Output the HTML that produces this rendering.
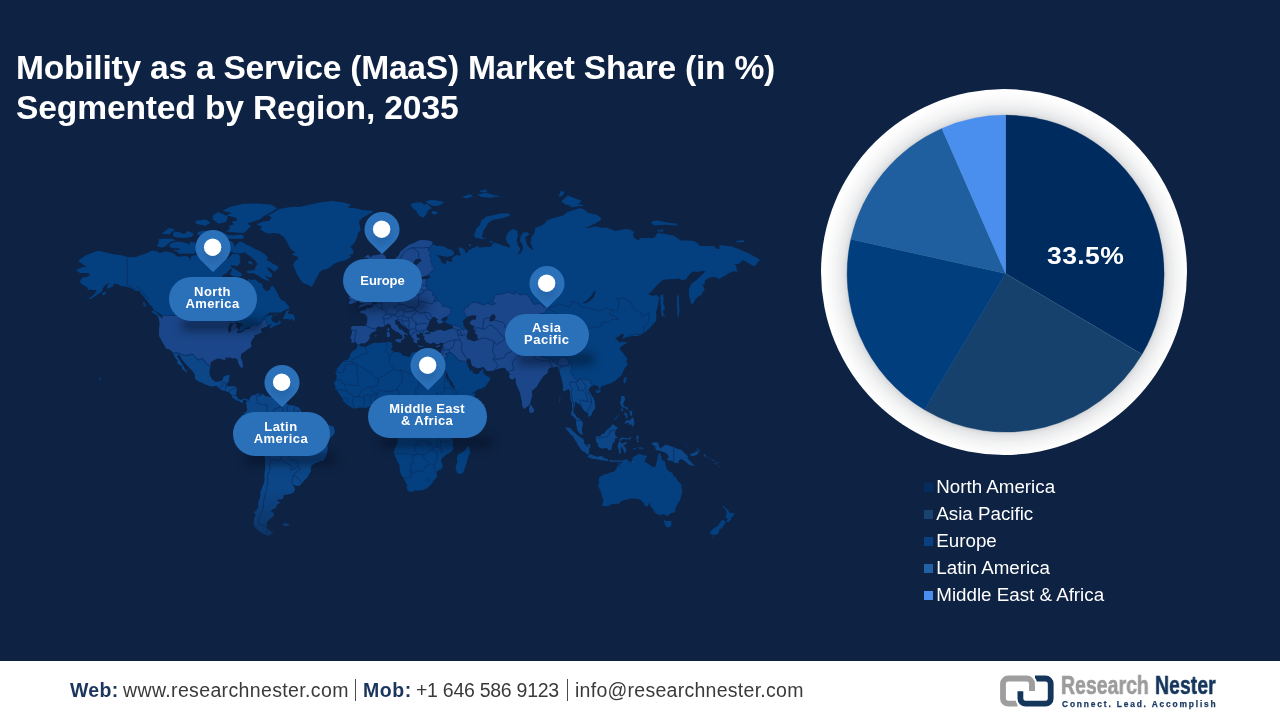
<!DOCTYPE html>
<html lang="en">
<head>
<meta charset="utf-8">
<title>Mobility as a Service (MaaS) Market Share by Region, 2035</title>
<style>
*{margin:0;padding:0;box-sizing:border-box}
html,body{width:1280px;height:720px;overflow:hidden;background:#0e2243;font-family:"Liberation Sans",sans-serif}
#stage{position:relative;width:1280px;height:720px;background:#0e2243;overflow:hidden}
.title{position:absolute;left:15.6px;white-space:nowrap;color:#fff;font-weight:bold;font-size:33.6px;line-height:40px;letter-spacing:-.31px}
#t1{top:48.4px;letter-spacing:-.245px}
#t2{top:88.1px;letter-spacing:-.14px}
#map{position:absolute;left:0;top:0;width:1280px;height:661px}
.pin{position:absolute;width:36px;height:43px;margin-left:-18px}
.pill{position:absolute;background:#2b71ba;border-radius:22px;color:#fff;font-weight:bold;font-size:13px;line-height:12px;letter-spacing:.42px;text-align:center;display:flex;align-items:center;justify-content:center;}
.psh{position:absolute;height:12px;border-radius:6px;background:rgba(4,13,34,.5);filter:blur(5px)}
.pill span{display:block;position:relative;top:-1.05px;left:-.6px}
#ring{position:absolute;left:821.2px;top:89.1px;width:365.8px;height:365.8px;border-radius:50%;background:#fff}
#pie{position:absolute;left:821px;top:89px;width:368px;height:368px}
#pct{position:absolute;left:1046.9px;top:242px;color:#fff;font-weight:bold;font-size:24.7px;line-height:28px;letter-spacing:.35px;white-space:nowrap;transform:scaleX(1.075);transform-origin:0 50%}
.lg{position:absolute;left:924px;height:22px;white-space:nowrap;color:#fff;font-size:18.75px;line-height:22px}
.lg i{position:absolute;left:.1px;top:7.1px;width:9.1px;height:9.1px}
.lg span{position:absolute;left:12.3px;top:-.35px}
#footer{position:absolute;left:0;top:661px;width:1280px;height:59px;background:#fff}
.ft{position:absolute;top:16.9px;font-size:19.5px;line-height:24px;white-space:nowrap;color:#3a3a3a}
.ft.b{font-weight:bold;color:#1b365d}
.sep{position:absolute;top:17.5px;width:1.6px;height:22.5px;background:#4a4a4a}
#logo{position:absolute;left:990px;top:4px;width:240px;height:50px}
.lt{position:absolute;white-space:nowrap;font-weight:bold;transform-origin:0 0}
.title,.lg,.pill,.ft,.lt,#pct{will-change:transform}
</style>
</head>
<body>
<div id="stage">
<div class="title" id="t1">Mobility as a Service (MaaS) Market Share (in %)</div>
<div class="title" id="t2">Segmented by Region, 2035</div>

<svg id="map" viewBox="0 0 1280 661">
<defs><path id="ld" d="M76.1 269.9L82.8 267.1L87.5 266.8L88.5 268L84.3 265.2L78.4 261.3L79.9 259.3L86.6 254.9L93.2 252.5L98 250.8L106.5 252.5L113.1 254.2L121.7 255.3L127.4 257L135 257.3L138.8 255.7L144.5 254.1L149.2 252L152.1 250.5L157.8 251.6L159.6 253.2L165.3 251.2L172.9 252.9L176.7 256.1L178.6 256.8L186.2 256L189.1 257.6L190 260.6L191.3 256L195.7 254.9L201.4 256.8L208 256.6L210.9 255L213.2 256L216.6 254L212.8 250.4L212.8 246.9L215.6 245.4L218.5 247.5L220.4 249.9L222.3 253.1L224.2 255L226.1 257.6L228 258.9L229.9 256.4L232.7 254.1L238.4 254.1L240.7 257.6L239.4 259.2L240.7 262.1L237.5 266.1L233.7 265.8L230.8 264.8L231.8 268.6L228.9 270.2L227 273.1L223.2 275.1L219.4 279.4L216.6 283.5L215.3 286.5L216.2 289.9L218.5 290.7L219.4 294.9L224.2 294.9L228.9 297.6L233.7 299.4L238.8 299.7L239 305.4L241.3 308L243.2 309.7L245.1 309L245.4 305.9L245.1 301.5L248.9 298.1L249.8 294.9L247 290.5L248.3 286.5L247 283.6L247.9 279.1L251.7 279.8L255.5 279.6L259.3 282.8L262.1 283.7L263.1 288L265.9 291L269.7 289.9L270.7 287.1L272.6 285.4L275.4 289.4L277.3 292.7L279.2 297L281.1 299.7L284.9 301.3L286.8 304.1L289.1 306.4L288.7 308.5L284.9 310L281.1 312.5L275.4 312.5L269.7 312.5L265 315.9L262.1 319.1L259.9 320.8L263.1 318.4L267.8 315.5L272.6 315.2L272.6 317.2L271.1 318.1L272 320.3L273.5 322.2L277.3 323.2L279.6 320.3L281.3 322.7L279.2 324.3L274.5 326L270.5 328.5L269.4 326.7L272 323.9L269.7 324.6L267.8 325.7L264 327.4L261.8 328.3L260.6 330.4L262.1 332.4L259.3 333.3L257.4 334.2L254.5 335.1L254.2 337.4L252.3 339.2L251.3 341.4L250.8 343.1L251.5 346.8L249.2 348.3L247 349.8L244.5 351.7L241.3 353.8L240.5 357L242 361.1L243 364.6L242.8 367.2L241.3 368.1L239.7 365.6L238 362.6L237.8 360.1L235.6 358L232.7 358.4L229.9 357.2L227 357.4L224.9 357.8L225.7 360.1L223.2 359.7L220.8 358.8L217 358.6L214.7 359.7L211.8 361.5L210.3 363.2L210.5 366.4L209.4 370.3L209.4 373.9L210.5 376.7L212.2 379.6L214.1 381L215.8 382L218.5 381.4L221.3 381.2L222.9 379.6L223.4 376.7L227 375.3L229.9 375.3L228.9 378.2L228.5 381.4L227.4 383.1L226.3 386.3L228.4 386.5L231.8 386.3L234.6 386.5L237.1 388L236.3 390.9L236.1 393.8L236.1 395.7L237.5 397.7L239 399.6L241.3 400L243.2 399.2L244.3 398.4L246.4 399L248.1 400.1L247.9 401.3L246.6 400.9L246 399.6L243.9 399.8L242.6 401.1L242.8 402.6L241.3 402.8L239.9 401.3L237.7 401.1L236.3 400.3L234.2 398.4L232.2 397.7L232.2 395.7L230.3 393.4L228.9 391.9L226.8 391.5L224.2 390.5L221.3 390L219.4 388.6L216.6 386.1L214.1 385.9L211.3 386.5L208 385.3L205.2 384.3L201.8 382.6L198.6 381.4L195.7 379.2L194.6 377.2L195.1 375.3L193.8 372.7L191.9 370.3L189.1 367.6L187.2 365.6L185.3 363.2L183.4 361.1L181.5 358.4L180.1 355.5L177.3 354.5L177.3 357L179.6 360.1L181.5 363.2L183.4 366.2L184.9 369.3L186.8 370.9L186.4 372.5L184.3 370.3L182 368.7L181.9 366.2L178.6 364.2L176.7 362.6L178.1 360.9L175.8 358.6L174.3 355.9L172.7 352.8L170.3 349.8L166.3 348.5L164.4 345.3L162.7 342.5L161.7 340.5L160 337.6L158.9 335.6L159.3 332L158.9 329.7L159.6 325.7L159.6 322L158.3 316.9L161.5 317.4L162.5 319.6L162.7 316.7L161.2 314.7L157.8 312.2L154 310.5L152.1 306.7L149.2 303.9L147.5 301.5L145.4 298.9L143.5 296.2L140.7 293.5L139.7 290.7L135.9 291.3L133.1 289.3L129.8 287.7L125.5 286.5L120.7 286L117.9 284.3L114.1 283.7L112.6 286.5L109.4 288L106.7 288.8L107.8 285.1L110.7 283.1L108.4 283.7L105.2 285.1L102.7 288.5L102.3 291.6L98.9 293.5L95.1 296.2L91.7 298.4L88.9 299.4L89.4 297.8L92.3 296.2L95.1 293.2L96.6 289.9L93.2 289.9L90.4 289.4L87.5 290.2L87.9 287.7L85.6 286.5L81.8 284.3L79.9 281.9L80.9 279.3L82.8 277.5L85.6 277.2L89.4 276L89.4 273.3L85.6 273L81.1 273.3L79 272.4L76.1 269.9ZM311.7 287.1L307.7 284.8L302.9 283.1L300.1 279.3L296.9 274.2L295.4 270.2L293.1 265.5L294.4 261.6L298.2 259L297.3 256.6L291.6 254.6L295.4 252.2L291.6 250.1L288.7 245.8L286.8 241.4L284 236.9L279.2 233.8L273.5 233.1L268.8 233.8L264 231.9L260.2 229.1L262.1 226.7L256.4 224.6L262.1 221.7L269.7 220.4L271.6 217.4L267.8 215.2L273.5 212.6L279.2 209L290.6 207.1L300.1 206.7L309.6 204.8L319.1 202.4L332.4 201L343.8 202.4L351.3 204.8L347.6 207.6L357 208.5L362.7 209.9L372.2 210.8L373.2 212.1L368.4 214.4L362.7 217.4L358.9 221.7L359.9 225.8L360.8 229.9L358 233.1L357 237.7L355.1 241.4L353.2 244.4L350.4 246.9L353.2 249.7L353.2 253.9L349.4 254.9L351.3 256.6L345.7 260.3L340 261.6L334.3 263.6L330.5 267.1L325.7 269.3L321.9 270.2L319.1 272.7L317.8 276.3L315.7 279.3L314.1 283.1L311.7 287.1ZM246.8 400.1L248 401.5L249.7 399L250.7 396.7L252.1 395.5L254.8 395.2L257.4 393.8L258.9 392.9L259.9 394.2L258.3 396.1L259.1 397.1L261.5 394.8L262.4 393.4L263.6 394.8L265.4 396.3L268.1 396.5L271.2 397.3L274.2 396.5L278.3 396.3L276.9 397.3L280.4 398.4L281.4 400.5L284.5 401.7L287.6 404.7L291.7 405.5L294.7 405.7L297.8 407.2L299.9 408.5L301.3 412L303.2 413.9L302.4 416.1L304.5 417.1L306.3 417.5L307.6 418L311.3 418.8L314.4 420.9L316.4 421.3L320.6 422.2L323.6 422L326.7 423.7L329.9 425.8L333.4 426.6L334.6 430.4L334.3 433.4L332.8 435.4L330.5 437.7L328 441.3L327.1 444.4L327.5 448.3L327.3 451.2L326.3 454.8L324.8 458.7L323.1 460.9L320.1 461.1L317.2 462.5L314.3 463.5L311.5 465.8L310.6 468.2L310.9 471.3L309.3 473.7L307.4 477.5L304.5 480L301.9 483.2L299.7 485.5L296.6 485.7L292.9 484.4L291.7 483.8L293.9 486.6L295.1 489L293.2 492.5L290.2 494L286.1 494.5L283.6 494.7L283.1 498.5L280 499.4L277.6 498.9L277.3 501.4L279.9 502.1L279.2 503.5L277 504.4L275.8 507.9L272.4 509.3L270.9 511.4L273 513.1L274.3 514.1L273 516.2L270 518.7L266.9 521.4L266.1 524.4L267.6 526.2L265.3 526.7L266.6 528L268.1 529.5L269.4 531.3L273.6 532.4L270.8 533.4L269 535.6L265.6 534.5L261.7 532.7L258.8 530.6L256 528L254.5 525.9L253.9 522.4L254 517.9L256.1 515.5L254.4 512.6L257 509.5L258.8 506.7L258 504.2L258.9 501.2L259.8 498L260.6 495.8L260.5 491.4L261.7 489.4L262.8 485.9L264.2 482.7L264.7 479.6L264.5 475.8L264.6 472.9L265.2 469.2L265.4 465.5L265.1 462.1L265.2 458.1L264.5 455.2L263.9 452L261.4 450.3L259 448.9L255.7 447.3L252.9 445.8L250.6 443.4L250 441.5L248.4 439.6L246.9 437.3L245.3 434.8L243.7 431.9L242.2 429.8L239.7 428.1L239.2 425.6L240.9 423.3L241.9 421.6L239.8 421.1L240 418.6L240.8 417.3L241.6 415.4L243.6 414.4L244.2 412.9L246.7 411.6L247.3 409.3L246.6 406.4L246.8 404.2L245.8 403L246.8 400.1ZM282.4 318.9L284 316.4L284.9 314.2L286.2 311.3L289.5 309L288.7 311.3L287.6 313L289.7 314L292.9 314.2L294.4 316.4L295 319.1L294 321L292.5 320.3L291.9 318.6L289.7 320.5L288.9 319.1L285.9 318.9ZM151.3 311L154 311L157.2 313L160.6 316.9L158.3 316.7L155.9 314.7L152.4 312.7ZM142.6 302.3L145 302.8L146.4 307.5L143.5 304.9ZM101.8 293.8L105.6 291.3L106.1 293.5L103.7 295.4ZM283 523.7L286.1 523.4L289.5 524.2L287.9 525.9L283.8 525.9ZM258.7 501.2L259.9 501.9L259.4 504.4L258 504.2ZM278.7 266.8L277.3 269.3L274.5 271.8L271.6 269.3L266.9 267.1L268.8 270.8L271.6 273.3L272.4 276.9L268.8 277.5L265 275.4L267.8 279L270.7 281.1L265.9 280.2L262.1 278.4L258.3 275.7L253.6 273.3L247.9 273.4L246.6 271.1L251.7 270.3L254.5 270.2L255.5 267.1L257.4 263.9L255.5 261L250.8 256.8L247 254.2L245.1 252.4L239.4 253.5L234.6 253.1L230.8 251.7L225.1 249L224.2 244.7L225.1 241.2L231.8 240.9L233.7 243.8L234.6 247L236.5 244.6L239.4 241.8L242.2 241.9L246 244.4L248.9 245.5L252.7 247.6L256.4 249.7L259.3 250.4L263.1 253.2L265 254.6L267.8 257.3L266.9 260L270.7 262.3L273.5 263.9L276.4 265.5ZM172.9 250.1L176.7 251.6L179.6 253.7L186.2 253.4L193.8 254.1L195.7 252.1L201.4 253.1L202.4 250L199.5 247.9L195.7 246.5L195.7 242.7L190 241.4L190 244.6L184.3 242.4L178.6 241.4L172 242.4L170.1 244.2L169.1 246L172 248.3L178.6 248.3L180.5 249.8ZM156.8 246L161.5 247.8L165.3 246.6L167.2 244.4L172 241.1L175.8 240.9L172.9 239.1L165.3 238.4L158.7 239.2L158.7 242.2ZM172.9 236L176.7 237.5L184.3 238L191.9 236.8L193.8 233.9L188.1 230.7L184.3 234.2L180.5 232.5L173.9 231.5ZM161.5 233.4L169.1 234.4L174.8 229.6L169.1 228.1ZM197.6 234.9L209 236.7L209.9 231.5L203.3 230.4L197.6 232.2ZM200.5 244.4L207.1 246.5L211.8 243.3L209.9 240.3L203.3 240.1ZM213.7 245.3L218.5 245.6L223.2 243.2L223.2 240.2L213.7 239.9ZM212.8 235.1L220.4 237.9L231.8 238.9L243.2 238.8L244.1 235.6L239.4 234.4L233.7 235.4L228 235L224.2 232.7L220.4 231.6L212.8 231.5ZM226.1 231.6L235.6 232.5L243.2 232.9L247 230.6L250.8 225.8L247 223.4L252.7 221.7L260.2 219.2L264 216.1L267.8 213.9L277.3 208.5L271.6 204.8L258.3 203.4L243.2 203.8L229.9 207.1L222.3 210.8L231.8 213L226.1 215.2L235.6 217.4L237.5 220.4L231.8 221.7L233.7 224.6L228.9 225.8L229.9 229ZM212.8 215.2L218.5 212.1L228 216.6L226.1 221.7L218.5 223.7L212.8 219.6ZM195.7 223.7L205.2 225.7L210.9 222.5L205.2 219.6L195.7 220.8ZM229.9 273.9L232.7 267.5L235.6 269.5L241.3 273.3L242.2 275.9L237.5 276.8L232.7 276.3ZM237.5 277.7L243.2 279.1L238.4 280ZM206.1 252.8L210.9 250.8L213.7 253L210.9 255ZM247.9 261.3L251.7 261.2L252.7 264.5L248.9 263.7ZM272.6 313.2L277.9 315L275.4 315ZM357.7 345.2L358.9 345L361 346.6L363.7 346.4L365.7 346.9L368.6 345.2L371.8 343.6L375.9 342.7L380 342.9L383.1 342.2L385.8 342.4L389.9 341.7L390.9 342.9L392.3 342.2L391.5 345.2L392.5 346.6L391.9 348L390.5 349.7L392.5 350.8L395 352.2L396.8 351.9L400.9 353.1L402.2 355.2L405.6 356.1L408.3 357L410.4 356.3L411 353.8L413.8 351.9L416.1 352.2L419 354L421 354.7L425.5 355.1L429.2 355.9L431 355.4L433.3 354.7L436 355.2L438.4 355.6L439.8 355.2L441.3 358.4L440 361.3L438.6 360.4L436.8 357.9L436.2 358L437 359.9L438.6 361.6L439.4 363.5L440.7 365.2L442.5 367.7L443.1 369.9L445.4 372L446 374.2L446 377.2L446.8 379.3L448.6 380.6L450.1 383.7L451.1 386.2L453.4 387.5L455.2 389.4L457.2 391L458.5 392.1L458.1 393.9L459.9 396.2L462 396.4L465 395.6L467.1 395L470.6 394.6L473.2 393.7L474.9 393.5L474.5 396.2L473.8 398.9L472.2 401.4L470.8 404.1L468.5 407.6L466.5 409.6L464 412.3L460.9 414.5L457.9 417L455.8 419.4L453.8 421.9L452.1 423.5L451.1 426L449.9 428L449.3 430.5L450.5 432.2L450.5 435.2L451.3 438.3L452.7 439.6L452.9 442.5L452.7 445.6L453.4 448.7L451.7 451.3L448.6 453.4L445.6 455L443.5 457.2L441.3 458.9L441.1 461.4L442.5 464L442.5 467.9L440.5 469.6L437.4 471.1L436.8 472.7L437.2 475.5L436 478.2L433.7 480.6L431.6 484L428.2 487.2L425.1 489.3L422.4 490.2L419 490.4L414.9 490.6L410.8 492L408.3 490.9L407.5 489.9L406.5 487.4L407.3 484.9L405.2 481.8L403.6 478L401.1 474.4L399.7 470.1L399.5 465.3L397.4 461.4L395.4 456.7L394 453.6L394 450.8L395 447.7L397.2 443.7L398.1 440L396.8 435.9L395.4 432.2L394.8 430.1L394.4 428L392.7 426L389.9 422.9L387.8 419.4L389.1 417L389.7 413.7L390.1 411.2L388.2 409L386.2 408.6L383.7 409L381.3 408.6L379.6 406.1L376.8 404.7L373.9 404.9L371.8 405.7L368.8 406.7L365.7 408.2L362.6 407.4L359.6 407.4L356.5 408.2L354.2 408.8L351.4 407.4L347.7 404.9L345.6 403.4L343.2 400.7L342.4 398.2L340.1 395L339.1 393.6L337 390.6L335.4 389.5L335.6 386.6L334 383.3L335.8 380.3L336.4 378.3L336.8 376.1L336.2 374.4L335 372.5L336.4 371.5L336.6 369.7L337.4 368L339.5 366L340.1 364.2L342.2 362.7L343.4 361.1L346.2 360.1L348.9 358.5L349.9 356.6L349.7 354.9L351 353.1L352.8 351L354.8 350.1L356.5 348.7L357.7 345.2ZM467.8 445.5L469.6 448.6L470.2 452.8L468.8 455.5L468 458.5L466.7 462.3L465.1 467L463.9 470.9L463.1 473.1L460 474.1L457.5 473.3L455.9 469.8L455.5 466.6L457.5 462.3L456.9 458.7L457.5 454.9L460 453.6L462 452.6L464.7 450.7L466.7 448ZM351.4 342.4L351.8 339.3L350.3 338L351.6 334.5L352 332.1L351.6 329.6L350.8 327.6L353 326.1L355.5 326.1L357.9 326L362 326L366.1 326L367.1 322.6L367.5 318.9L367.3 317L365.3 314.2L364.1 313.5L360.8 313L360 311.7L363.7 310.1L365.7 310.5L366.5 307.6L367.5 308.3L370 308L372.9 306.4L373.5 304.4L375.9 303.8L378 302.1L379.6 299.5L382.1 298.5L384.1 298.2L386.4 297.9L387.6 296.2L387.4 292.5L386.3 290.2L386.7 288.1L389.4 287.5L391.4 285.9L390.8 289.2L392.1 290L390.6 291.5L389.4 293.9L390.2 295.3L392.1 296.6L394.5 295.9L397.4 294.6L399 296.4L402.5 294.9L406.6 293.3L408.1 294.3L410.3 294L411.7 292.7L412.9 290.8L412.7 288.6L413.7 286L416 285.1L417.2 287.2L418.8 287.2L419.7 284.8L419.9 282.9L417.8 282L417.8 280.5L420.3 279.4L424 279.3L427.1 279.2L429.1 277.5L431.6 277.8L430.1 276.8L428.5 275.2L425 276L420.9 277.1L416.8 278.6L415.2 276.8L413.5 274.9L413.7 271.7L413.7 268L416.8 264.9L419.9 262L421.8 260.9L421 259.3L419.3 258.7L415.8 258.9L413.7 261.7L412.7 264.1L411.3 266.2L408.2 268.1L406.1 270.5L405.1 273.1L404.9 276.3L407.6 277.8L406.8 280.6L404.5 282.4L403.7 285.1L403.3 288.3L402.1 290.1L399.4 290.5L398.8 292.2L396.4 292.4L395.9 290.1L394.7 287.9L393.9 285.5L392.6 282.6L391.6 280.8L390.2 282.1L388.1 283.9L386.1 284.9L383.6 284.9L381.4 283.2L380.8 280.7L380.1 278L379.9 274.9L380.3 272.6L383 270.7L386 268.6L389.1 266.9L391.8 264.2L394.2 261.1L395.8 258.2L398.9 255L400.3 252.1L402.4 249.9L405.5 247.5L408.5 245.2L411.6 244L414.7 242.7L417.8 241.1L419.8 240.3L422.5 239.9L426 240.2L429.1 240.8L433.4 242.3L431.2 244.5L434.2 244.8L437.3 245.9L440.3 246.1L443.4 246.2L447.5 248.7L451.2 249.4L453.7 251.3L454.1 254.1L451.6 256.1L447.5 256.9L443.4 256.3L439.4 255.4L436.7 254.4L438.4 256.8L440.4 258.5L441 261.2L442.4 263.1L445.5 264L446.5 261.2L445.1 260.3L447.5 260.7L450.6 261.8L452.6 261.6L451.6 258.5L454.7 255.8L457.8 255L459.9 256L460.5 254.3L459.5 251.9L458.9 249.4L458.5 247.3L462 248L464.6 249.4L465 252.2L467 253.3L468 250.8L470 249.4L473.8 247.8L477.5 246L479.7 247.8L482.9 247.1L487.4 246.8L490.6 247.1L491.7 245.4L493.7 242.5L496.7 243.2L500.5 244.6L503.4 246L506.2 246.2L509.2 248L510.2 245.7L507.1 242.5L505.7 238.4L507.1 233.8L510.1 230.7L513.2 229.1L517.3 230.7L517.9 235.7L516.7 240.2L518 245L520.2 248.6L519 252.3L516.5 254.5L520.7 253L522.8 249.3L522.8 244.9L520.1 241.3L520.5 236.8L522.8 232.5L527.4 232.2L529.5 234.5L525.1 237.3L527.1 244.8L530.2 248.5L533.3 250.3L530.4 242.8L531.5 237.1L534.7 232.5L535.3 227.8L541.5 225.5L545.6 222.8L546.3 220.7L552.1 218.4L558.3 216.8L563.3 215.6L567.3 212.2L575 209.4L580.4 208L583.8 209.3L588.3 212.9L595.8 214.5L600.2 216.9L601.2 219.8L596.1 223.1L590.3 226.1L586.7 227.5L584.3 227.9L589.1 227.9L593.9 226.6L598.2 226.7L601.2 227.9L606.4 227.6L611.8 229.4L615.2 231.1L621.7 229.8L625.8 229L629.9 229.4L634 231.9L633 235.3L635 238.5L638.1 240.2L641.2 237.7L644.3 238.3L648.4 237.7L652.4 238.2L655.5 236.6L656.5 234.3L658.6 232.8L662.7 233.6L668.9 234.8L674.1 235.7L677.2 238.1L681.3 240.4L687.5 240.6L693.8 241.1L697.9 243.7L700 246L704.1 245.7L709.3 246.3L713.5 245.7L716.6 248.7L719.7 248.7L719.3 245.1L722.8 245.2L726.9 246L731.1 246.2L735.2 247.7L739.3 249.3L745.5 251.9L749.7 253.8L754.8 256.7L760.6 259.9L757.9 261.9L755.9 265.2L753.4 265.9L749.7 264.1L746.6 262L742.5 259.9L740.5 262.6L738.4 263.9L734.3 264.1L736.4 265.8L736.4 269.1L738.1 271.7L733.3 271.3L729.2 273.1L725.1 275.8L722 277.3L719.5 279L714.7 277L710.5 277.4L707.3 278.5L704.8 281.1L704.3 284.7L702.2 284.3L704.8 289.6L702.4 292.5L702 294.5L698.3 296.4L695.7 298.7L694 302.1L691.8 304.7L690.2 300.8L689 295.4L688.8 289.4L691.2 284.1L694.7 281.2L698.9 277.7L702 274.8L705.8 271.2L702 270.7L697.8 272.1L694.7 271.6L690.9 272.7L687.3 277.2L686.3 279.3L682.1 280.2L679 278.6L673.9 278.9L668.9 279.3L663 279.7L660.2 282.3L657.3 284.9L653.7 288.8L650.9 292.3L648.1 294L651.2 295.5L654 295.8L656.4 294.7L657.9 296.4L659.5 297.2L658.7 300.3L658 304.3L657.4 308.3L656 311.8L656.5 316.8L656 321L653.5 323.7L648.8 328.9L645.2 331.7L642.5 334.1L638 336.1L633.9 335.9L629.3 336.4L625.8 337.2L622.9 338.9L622.9 337L624.2 334.5L621.6 333.8L618.8 336.2L615.9 337.8L615.4 339.1L618.2 340.7L619.4 342.4L622.5 341.7L625.6 342L627.7 342.4L624.5 344.1L622.5 345.5L619.9 347.4L619.8 349.2L622.7 352.4L624.8 355.8L627.2 358.2L627.2 360.2L625.2 361.5L627.2 362.4L627.4 364.4L626 366.4L623.8 369.7L622.2 374.1L620.5 376.3L618.3 378L615.6 380.4L612.4 382.6L609.3 383.7L607.2 384.3L605 385.2L601.1 386.3L600.1 388.9L599.1 389.4L598.4 386.6L595 385.1L592.3 385.4L590.4 386.5L588.7 388.9L588.6 390.8L590.2 393L591.7 395.8L593.5 398.1L594.5 401.2L595 404.4L595.2 407.4L594.5 408.9L592.8 411.5L591.8 412.4L591.7 414.7L589.2 416.4L588.4 416.9L588.5 414.2L587.3 412.4L584.6 411.2L582.4 408.1L580.3 405.1L577.7 403.4L576.4 401.9L575.2 401.7L574.6 403.4L574.7 406.1L573.6 409.1L573.1 412.3L574.9 414.1L576.2 416.8L579.2 418.6L581.3 420.6L583 423.3L582.2 427.8L581.8 431.5L583 434.4L582 434.8L579.8 433.3L577.7 430.7L576.8 426.9L576.2 422.5L575.8 419.2L574.2 417.7L573 416.1L571.3 415.3L571.2 413L572.2 410L572 405.5L572 402.6L570.8 400L570.3 395.9L569.9 390.9L568.6 388.8L566.9 389.6L565 391L562.9 390.4L563.3 387.3L562.8 383.8L561.3 377.6L559.9 372.7L558.4 369.3L557.8 366.9L555.8 366.9L554.1 367.3L552.1 367.2L550 367.6L548 369.7L547.6 372.8L545.9 374.2L543.9 375.5L541.6 378.6L539.7 381.5L536.8 386.4L534.4 388.8L532.3 390.3L531.8 393L532.3 395.3L531.4 398.2L530.4 401.3L530.2 403.4L528.2 406L526.2 407.2L524.5 408.9L523.1 407.8L522.2 405.2L521.9 401.3L520.9 397.6L520.5 394.2L519.7 391.4L518.2 388.7L516.8 385.4L516.1 383L515.7 379.9L515.5 377.8L515.1 376.7L514.3 378.4L512.2 379.5L510.3 378.8L509.1 376.2L509.1 375L511.1 374.7L509.4 373.6L508.5 371.5L507 370.7L505.8 368.7L504.6 367.4L501 368L496.4 369.2L493.1 370.6L489.8 371L486.2 370.5L484.4 367.7L482.8 366.8L479.9 368.1L477.6 368.3L475 367.1L472.3 365.8L471.2 363L470.5 359.5L468.1 358.3L467.1 359.4L466.1 360.6L467.1 363.6L467.9 367L469.4 368.7L469.7 370.4L470.8 372.3L471.1 370.9L471.9 369.8L472.6 371.5L472.3 373.1L474.7 373.8L478.1 374.2L479.5 372.6L481.2 371L482.6 369.3L483.1 369L483.2 372.4L483.9 374.3L486.2 375.7L488 376.4L490.3 378.5L489.3 380.8L487.6 382.9L486.2 384.8L486 385.9L483.6 387.4L481.2 388.4L478.8 389.1L476.6 390.1L474.9 391.8L471.4 393.7L468.2 395.6L465.1 397.2L461 398.7L459.6 399.4L456.9 399.3L456.3 397.6L455.8 394.7L455.6 391.4L455.2 387.7L453.7 385L452.4 382.1L450.3 379.9L448.9 377.8L448.2 374.6L446.2 371.8L444.8 369.3L443.4 366.3L441.6 362.8L440.5 362L441.3 358.6L439.8 354.3L440.4 353.6L441.1 352.2L441.5 350.6L442.3 348.6L443.3 347L443.1 345.2L443.9 343L442.5 343.1L440.7 342.6L438.6 343.9L436.3 344L434.2 342.6L432.4 342.2L431.8 343.5L429.7 343.5L427.7 342.4L425.9 342L425.5 340.1L423.8 338.9L424.7 337.7L424.4 336.3L423.2 336L423.6 334.2L426.1 333.9L429.2 334L431 333.3L429.4 332.3L431.8 332L434.3 331.7L436.3 330.4L439 330L441.9 330.1L443.8 331.3L445.4 330.8L446.9 330.2L449.2 329.6L451.9 328.8L453.2 328.2L453.3 326.7L452.3 325.5L450.2 324.8L448.1 323.6L446.3 322.9L444.8 321.7L446.8 319.8L447.8 318.3L446.8 317.3L449.1 315.6L447.6 316L445.8 316.8L443.3 317.5L441.3 319L441.4 320.7L444.2 321.2L442.2 322.4L440 323.8L438.4 323.4L436.5 320.8L438.5 319.4L436.3 318.5L434.8 316.8L432.6 317L430.8 319.5L429 321.8L428.3 325.1L426.9 327.2L426.3 328.4L427.3 330.3L429.2 331.7L428.2 332.5L426.1 332.3L425.1 333.3L423.4 334.5L423.2 333.2L421.4 332.4L419.7 332.4L418.5 333.5L419.5 334.5L417.7 334.3L416.7 333.6L416.1 334.9L416.9 336.6L416.7 337.6L418.9 339.2L418.9 340.4L417.9 339.7L416.9 340L417.3 341.4L417.1 343.3L415.9 343.3L414.8 342.3L414.2 342.6L413.4 340.5L414.2 339L416.9 339.2L413.2 338.8L412.2 337.6L411.2 335.9L409.5 334L409.5 331.4L409.5 330.1L407.7 328.7L405.6 327L403 325.6L400.9 323.7L400.1 321.4L399.1 320.5L398.3 321.7L397.6 319.9L396.8 319.3L395 320.4L395.2 322.3L395.2 323.9L397.4 325.5L398.5 328L400.1 329.5L402.8 330L402.6 331.1L404.6 332.4L406.7 333.4L407.7 334.7L407.3 335.4L406.2 334.2L404.6 333.7L403.8 335.4L404.8 337.1L403.6 338.8L402.6 340L401.7 339.5L402.4 338.1L402.8 336.6L401.9 334.9L400.5 334.2L399.1 332.9L397.6 331.9L395.6 331.5L394 329.8L392.3 329.1L391.3 327.6L390.7 325.3L389.7 324.3L388 323.3L386.6 324.6L385.2 325.2L383.7 326.6L382.1 327.2L380.7 326.8L378.6 326.4L377 326.9L375.9 328.4L376.4 329.6L375.9 330.8L374.3 331.5L371.8 332.4L371.2 333.4L369.8 334.9L369.2 336.4L370.2 337.9L368.8 339.2L368.2 340.9L366.1 342L365.3 343.2L362.6 343.3L360.6 343.3L358.9 344.7L358.1 344.9L356.9 343.5L355.7 342.1L353.4 342.5L351.4 342.4ZM358.1 307.4L360.6 304.7L363.6 304L364.3 302.9L362.6 303.3L359.1 302.7L361 301.3L360.4 300L361 298.6L363.6 298.2L363.6 296.6L362.4 295.3L363.4 294.2L360.5 294.6L359.3 294.1L359.9 292.1L358.3 293L358.3 290.7L357 289.3L358.1 287L359.1 284.6L359.5 283.7L363.6 283.6L361.5 286L362.6 286.3L365.6 286.2L365.4 288L364 290.3L363 291.2L365.7 291.7L366.9 293.9L368.7 295.5L369.6 296.6L370 297.6L370.4 299.5L373.3 300L373.1 301.8L371.6 303L372.7 303.8L371.6 304.5L370.2 305L367.5 304.8L364.9 305.7L362.4 306.6L359.1 307.5ZM354.6 293.1L357.3 293.6L358.3 295.2L357.1 296.9L357.3 298.8L356.9 301.8L352.8 303.2L349.7 304.3L348.5 302.7L349.9 301.2L351.3 299.4L348.9 299L349.3 296.7L352.3 296.3L352.1 294.9L353 293.7ZM410.7 204L415.4 202.6L421.6 202.6L424.6 204.9L426.7 203.5L431.8 208.1L427.7 210.8L426.7 213.8L423.6 217.7L419.5 216L417.1 213L416.4 210.8L412.4 208.1ZM425.7 201.2L431.8 199.7L438 200.7L444.1 202.1L440 205.3L433.9 206.3L428.7 204ZM431.8 210.8L438 212.1L435.9 214.7L431.8 213.8ZM462 197.1L469.5 194.2L473.4 196.3L465.8 198.5ZM477.4 194.8L485.7 192.5L494.5 195.2L501.2 196.3L490.1 197.7L481.5 197.1ZM479.4 190.9L485.7 189.6L487.8 191.6L481.5 192.4ZM473.9 235.7L475.5 231.4L476.3 228.5L480 225L481 220.9L486.2 216.8L490.5 215.7L501.5 213.3L509 213.5L510.1 215.7L501.7 218.5L492.7 220L488.2 223L486.1 227L483.2 230.9L481.9 237.2L486.9 238.8L481.1 238.9L475 237.6ZM468.9 244L471.4 244.6L470.9 246.5L468.6 245.8ZM489.5 240.6L493.3 241.4L492.7 242.8L490.2 242.5ZM561.2 201.4L567.6 195.6L581.5 200.7L577.5 205.2L566 204.9ZM558.4 196.8L560.8 190.8L564.8 191.9L562.1 196ZM568 204.9L581.7 204.4L583.8 205.8L571.3 207.3ZM650.4 222.3L656.5 220.3L666.8 222.4L677.1 223.8L677.1 225.4L664.7 224.8L654.5 225.6ZM656.5 230.4L662.7 229.3L663.7 231.6L657.5 231.6ZM736.2 241.1L743.4 240.1L744.4 242L737.2 242.6ZM661.1 294.4L663.2 294.7L663.6 299.2L663.3 303.2L665.1 308.2L662.8 311.4L664.7 316L665.2 317.3L662.9 315.3L662.5 317.6L661.6 315.6L661 311.3L660.9 305.7L660.3 301.2L660.3 297ZM625 377.1L626.8 377L626.3 379.4L625.9 381.6L624.8 383.7L623.4 381.8L623.2 380.3L624.4 378.1ZM595.7 390.7L598 390L600.5 389.8L601.1 390.8L599.9 392.3L597.7 393.3L595.5 392.3ZM529.9 404.8L530.8 404.7L532.6 407.6L534.3 410L533.8 411.7L531.3 413.1L529.9 412.6L529.4 411L529.1 408.6L529.9 406.8ZM395.2 339.7L397.2 339.3L401.7 339.1L400.7 341.4L400.7 342.8L399.1 342.4L395.2 340.7ZM386.6 332.5L388.8 332.1L389.9 333.7L389.5 336.8L388.2 337.2L387 336.8L387 334.2ZM387.4 329.1L389.1 327.6L389.3 330.1L388.6 331.6L387.6 330.8ZM417.9 345.4L421 345.9L423.6 346.3L423 346.8L420 347L417.9 346.3ZM435.9 346.3L437.3 345.7L440.4 345L439.4 346.3L437.3 347.1L435.9 346.7ZM374.7 335.8L376.3 335.1L376.8 336L375.5 336.5ZM416.9 337.5L419.3 338.2L420.2 339.7L418.9 339.2L417.5 338.3ZM407 286.5L408.6 284.7L408.4 286.4L407.2 287.6ZM392.7 291.7L395.3 290.5L395.5 292.4L394.3 293.7L392.7 293.2ZM389.8 292.4L391.7 292.4L391.9 293.5L390.2 293.6ZM414.5 283.1L417.2 282.4L416.8 283.6L414.7 284.3ZM477.2 398.3L479.7 398L479.3 398.7L477.4 398.9ZM559.7 396.2L560.4 397L560 402.4L559.4 401.8ZM678 293.3L679 297L678.8 303L679.5 308L679.2 313L678.3 318.3L677.3 314L677.2 308L676.8 302L677.2 297ZM659.3 452.5L661.3 456.3L662 460.1L665.1 461.6L665.5 464.8L667 469.8L668.7 470.9L672.4 473.1L673.5 475.7L676.6 477.9L676.8 480.1L679.1 482.3L681.6 484.5L681.4 487.9L682.5 491.5L681.2 495.8L680.2 500L677.7 503.5L675.4 508.7L674.9 512.3L670.8 513.3L667.4 516.2L664.5 514.5L663.4 513.8L661.3 515.5L656.1 513.8L653.6 511.1L653 508.5L650.9 507.8L650.9 505.9L650 504.7L649.6 502.1L648.8 504L647.7 506.8L645.7 505.9L644.8 505.9L644 503.5L641.9 501.2L640.4 499.8L635.2 498.4L631 498.6L624.7 500L620.6 501.6L619.5 503.7L616.2 503.7L612.2 504L608 506.3L603.8 506.1L601.7 504.7L603 502.8L603.2 499.3L601.7 495.8L600.9 492L599.6 489L598 486.1L598.6 483.4L599.6 486.3L598.8 482.3L599 478.1L600.1 476.3L600.9 476.6L603.8 474.6L607 473.9L610.1 472.4L614.3 471.5L616.8 468.1L618.3 464.8L619.7 466.8L620.6 464.2L622.6 461.6L624.7 459.5L626.8 459.5L629.3 461.6L632.3 461.4L632.1 458.4L634.4 456.1L637.3 455.2L638.5 453.7L643.6 455.2L647.3 455.7L645.7 458.4L644.6 461.6L647.7 463.5L651.9 466.6L655.1 467.2L656.1 463.8L657.4 459.5L657.6 456.3ZM663.9 520.2L667.6 521.2L671.4 520.7L671.4 523.4L670.8 526.4L668.2 527.5L666.6 527.2L665.1 524.7L663.9 521.4ZM722.4 504.9L724.1 506.3L726.2 508.7L728.3 509.9L728.9 512.6L731.4 513.3L734.6 512.8L733.5 516L731.4 517L731 519.2L728.3 522.4L726.8 521.7L727.6 518.9L726.6 517.9L724.7 516.7L726.4 515.2L726.6 512.3L725.6 509.7L723 506.8ZM722.4 519.7L725.8 521.4L725.1 523.4L723 526.4L722.6 528L719.5 529.3L718.9 532.4L716.8 534.4L713.6 535.2L711.5 534.2L709.5 533.1L711.5 530.5L713.6 528.2L717.8 525.9L719.9 522.9L721.2 520.9ZM711.5 535.8L713 536L712.6 537.1L711.5 536.8ZM98.9 377.8L100.8 378.4L101.2 379.2L99.7 380.2L98.9 379Z"/><path id="lm" d="M703.7 454.1L705.7 455.3L706.8 457.2L705 456.7L703.9 455.3ZM707.9 456.9L710 458.4L709.4 458.8L707.9 457.6ZM711.2 459.1L715.1 461L714.5 461.5L711.2 459.8ZM714.7 463.1L717.3 463.9L716.7 464.6L714.7 463.9ZM717.1 460.7L718.4 463.1L717.8 463.4L716.9 461.5ZM718.4 465.3L720.6 466.3L720 466.7L718.4 466ZM689.8 454.3L693.5 452.9L696.9 451L698.6 451.2L698 454.1L694.7 455.7L691.4 456ZM695.3 447.2L698 448.8L700.2 451.7L699.7 452.2L696.9 448.8L695.3 447.6ZM686.1 445.7L687.8 445.7L687.6 446.2L686.1 446.2ZM651.8 442.9L655 441.9L658.4 442.9L658.8 445.7L660.5 448.8L662.8 446.5L666 444.6L669.4 445.7L673.8 447.2L678.2 449.1L681.5 450L684.3 452.9L687 455.3L688.7 456.9L687 457.2L689.2 460L691.4 462.4L693.5 464.8L695.3 466.3L692.5 465.5L689.2 465.1L685.9 461.9L682.5 459.6L680.4 459.3L678.8 460.7L678.2 462.9L674.9 462.9L671.5 460.5L668.2 460.7L667.2 458.4L668.9 457.2L667.2 454.1L665 452.6L661.7 451.5L658.4 450.3L656.2 450.5L655.7 448.8L654 447.6L657.2 446.9L654.6 446.2L651.8 444.3ZM595.8 436.9L597.1 435.8L600.2 436.5L601.1 434.6L604.6 432.9L606.8 429.8L610.1 427.4L612.7 423.9L614.9 425.8L618.2 428.1L615.6 430.3L614.9 433.4L615.6 435.8L617.8 438.1L615.2 438.6L614.5 441.7L612.3 444.1L611.9 447.6L611.2 450L608.1 450.2L607.9 448.6L604.6 448.1L602 448.8L598.4 447.1L598 444.1L596.2 441.7L595.8 439.3ZM565.7 427.2L570.5 428.1L572.3 430.5L575.8 433.4L577.8 435.5L580.4 436.9L583.3 439.1L584.4 441L583.7 442.9L585.9 444.8L586.8 446L589.2 447.6L589 451.2L588.8 454.3L587.4 454.3L586.1 453.8L585.5 452.4L582.6 451.2L581.1 449.8L579.3 447.1L577.8 444.8L576.7 442.4L575.3 440.5L573.8 438.1L573.1 436.5L570.9 434.8L569.4 432.7L567.2 430.5L565.7 428.1ZM587.4 456.7L589.2 454.5L591.4 454.5L594.7 455.9L598 456.9L600 455.7L603.7 456.9L604.6 458.6L607.7 458.8L607.9 461.2L604.6 460.5L601.3 460.2L598 459.5L594.7 459.1L592.5 458.8L590.1 458.1ZM609 460L612.3 460.2L617.8 460.5L622.2 460.5L626.6 460.2L626.2 461.2L620 461.7L615.6 461.7L611.2 461.7L609 461ZM627.7 465L629.9 462.6L632.1 461.2L635.8 460.5L634.3 462.4L631 464.3L628.4 465.3ZM617.8 463.1L621.8 464.1L620 465L617.8 463.8ZM619.6 438.6L620.4 438.4L622.2 437.4L625.1 438.1L627.7 438.4L631 436.7L631.4 437.2L629.7 439.6L626.6 439.3L623.3 439.3L621.1 439.6L620 442.4L622.2 443.6L624.4 442.6L627.3 442.6L626.2 444.3L623.3 445L625.1 447.6L626.6 450L625.5 451.2L626.2 453.6L624.4 452.4L623.3 450L622.2 446.9L620.7 447.4L620.9 450L620.9 453.6L618.9 453.6L618.9 450L617.6 447.1L618.2 444.1L619.6 440.5ZM636.5 436.2L637.6 435.3L639.1 436.9L637.6 439.3L638.7 441.7L637.2 442.4L636.7 439.3ZM637.6 447.6L642 447.4L643.8 448.8L640.9 448.8L637.6 448.3ZM633.2 448.1L635.8 448.3L635.4 449.5L633.6 449.3ZM621.3 396.1L624.4 396.1L625.1 399.8L623.5 402.7L623.3 405.1L625.1 407.1L627.3 407.3L628.8 410.4L627.3 409.5L625.5 408.5L623.7 407.3L622.2 407.8L621.3 406.1L620.7 405.1L619.8 401.5L620.9 400.7L620.9 398.5ZM624.4 423.9L625.1 421.5L627.7 420L630.3 420.3L632.1 417.2L633.9 419.1L634.3 423.1L633.6 425.5L631.9 427.2L631.7 424.3L628.8 425.1L628.8 422.7L627.3 422.7ZM629.5 410.7L631.7 410.7L632.5 413.8L631.4 416.2L630.6 416L629.7 413.3ZM624.4 412.4L626.8 413.1L627.5 415.5L627.3 418.4L625.5 417.9L626.2 415.5L624.4 415.5ZM613.8 420.5L616.7 417.9L618.9 414.8L619.3 413.3L617.8 415.7L614.5 419.1ZM620.7 408.5L622.6 408.5L623.3 410.9L622.2 411.4ZM587.4 444.3L589.6 444.1L590.7 447.6L588.8 447.4Z"/><clipPath id="land"><use href="#ld"/><use href="#lm"/></clipPath></defs>
<path fill="#1b4689" d="M364 257.4L368.1 254.4L370.6 257.4L372.6 255.4L376.9 255L381 254L384.3 254.7L386.3 258.1L385.5 261.1L382.5 262L375.9 264.3L372.6 264L367.7 263L369.1 261.4L365 259.7L368.7 258.1Z"/>
<use href="#ld" fill="#04407f"/>
<use href="#lm" fill="#0c4687"/>
<g clip-path="url(#land)" stroke="#0a3168" stroke-width=".9" stroke-linejoin="round">
<path fill="#0c4687" d="M172.7 352.8L177.1 352.8L184.3 355.3L189.6 355.3L189.6 354.3L192.9 354.3L196.7 358.8L199.1 360.1L200.5 358.4L203.3 359.1L206.1 363.2L210.5 366.4L224.2 368.3L237.5 370.3L243.2 370.7L258.3 372.3L281.1 378.2L338.1 407.2L338.1 546.9L214.7 546.9L157.8 378.2L157.8 353.8Z"/>
<path fill="#1b4689" d="M148.3 315.5L158.1 315.5L186.2 315.5L214.3 315.5L215.1 314.5L218.5 316.4L224.2 317.6L227 317.2L234 320.5L236.5 322.4L238.4 324.3L238.6 329.7L237.3 331.7L240.3 331.5L245.1 329.9L245.1 328.8L249.2 328.3L250.2 326.9L252.7 325L259.3 325L261.6 322.2L263.7 319.3L265.4 319.6L266.3 320.1L266.3 323.4L267.8 325.5L269.7 329.7L264 336.5L256.4 343.1L252.7 349.6L246 355.9L244.1 364.2L243.5 368.7L239.4 369.7L236.5 364.2L235.6 360.1L228 359.1L226.1 361.1L218.5 360.5L211.8 365.2L210.5 366.4L206.1 363.2L203.3 359.1L200.5 358.4L199.1 360.1L196.7 358.8L192.9 354.3L189.6 354.3L189.6 355.3L184.3 355.3L177.1 352.8L172.7 352.8L148.3 353.8Z"/>
<path fill="#1b4689" d="M465.4 328.6L463.4 329.9L461.7 328.6L460.2 326.9L457.9 326.5L455.2 325.1L450.6 324.9L447.2 324.5L444.6 321.5L445.3 318L447.8 315.7L450.7 313.7L450.8 311.3L451.5 308.2L447.7 307.4L446.3 306.2L442.5 306.3L442.3 304.4L438.8 300.7L433.9 301.4L434.8 298.6L436.2 296.7L432.7 295.2L433.1 293L431.5 290.7L427.4 289.6L426.4 286.2L426.4 284.6L425.8 281.8L427.3 279.5L427.1 277.5L426.7 275.9L430.8 272.6L433.7 269.4L434.3 267.7L431.2 265.5L432.5 264.5L430.8 261.8L431.2 258.8L429.4 254.8L431.2 252L428.1 250.2L428.9 247.4L432.8 244.5L433.1 236.2L369.6 238.2L346.1 260.3L346.2 308.7L345.2 345.7L358.3 345L365.7 344.8L375.9 340.1L388.2 339.6L393.3 340.9L396.4 346.7L410.7 349L427 350L437.4 350.5L439.8 354.3L441.1 358.6L441.3 358.8L443.4 359.4L446.3 357.6L447.3 356.4L445.5 353.9L449.7 352.5L451.8 353.5L454.5 355.9L459.4 361L463 361.3L465.1 361.5L466.8 362.9L469.2 366.7L473.3 369.4L477.7 370.3L482.8 368.3L486.6 372.5L490.7 379.6L506.8 384.9L514 408.3L526.1 417L539.7 414.9L545.2 389L554.1 376.1L558.8 371.1L558.8 371.1L559.5 369.5L561.1 366.4L560.9 365L563.9 367.2L563.7 365.9L565 365.4L568.7 365.2L569.4 362.5L566.8 358.4L562.5 357.4L558.3 359.3L552.1 360L550 358.8L545.9 358.7L541.8 356.9L537.6 354.5L535.6 354.9L530.9 352.6L531.5 349.6L531.5 345.3L529.5 342.1L525.4 340.6L523.2 337.7L523 334.6L520.9 331.5L525.4 330.1L529.5 328.9L534.2 324.9L533.6 319.4L538.4 318L539.8 313.6L545.3 313L546 310L548.6 308.1L543.9 306.7L540.8 303.6L533.6 304.2L529.2 297.2L526.9 294L520 295.1L514.9 291.2L514.9 294.5L508.8 292.1L502.6 293.8L494.5 295L494.4 297.9L492.3 300.7L495.4 304L491.3 304.8L488.1 303.3L483.2 304.8L480.6 303.8L476.5 302.6L473 302.1L468.7 305.3L468 307L464.6 307.3L464.8 309.3L463.6 311.3L464.4 312.7L466.6 316.4L467.4 317.2Z"/>
<path fill="#04407f" d="M441.3 358.8L443.4 359.4L446.3 357.6L447.3 356.4L445.5 353.9L449.7 352.5L451.8 353.5L454.5 355.9L459.4 361L463 361.3L465.1 361.5L466.8 362.9L469.2 366.7L473.3 369.4L477.7 370.3L482.8 368.3L486.6 372.5L494.9 382.6L486.9 394.7L474.5 396.7L466.1 399.6L460 401L456.7 399.5L453.9 395.2L451.6 387.8L447.6 381L444.6 374.5L441.7 367.2L440 362.7L441.1 358.6Z"/>
<path fill="#0c4687" d="M569.4 362.5L571.8 365.2L572 369.4L569.8 371.8L572.2 373.3L573.3 377L575.7 379.4L578.1 381.2L579 378L580 378.4L581.9 378.7L586.3 379.6L588 379.6L590.6 381.5L590.9 383.7L593.6 385.3L592.2 389.1L597 398.5L598.3 411.6L590.6 419.9L583.8 436.4L578.7 435.7L572.9 420.5L567.5 412.9L566.6 397.2L560.3 391.3L557.8 373.4L558.8 371.1L558.8 371.1L559.5 369.5L561.1 366.4L560.9 365L563.9 367.2L563.7 365.9L565 365.4L568.7 365.2Z"/>
<path fill="none" d="M127.4 257L127.4 285.7L131.2 286.5L134 289.6L137.8 287.1L141.6 290.7L144.8 295.9L148.3 297.6L148.3 300.2M220 389L220.4 387.4L221 386.1L223.2 385.9L221.5 383.7L222.3 382.6L225.7 382.6L225.7 386.1L226.3 386.3M225.7 386.1L225.5 389L224.2 390.3M228.5 391.9L230.4 390.3L233.7 388.8L237.1 388M232.3 395.5L234.2 395.7L236.1 395.9M237.7 401.1L237.7 399.4L238.2 398.4M246.8 400.1L247.2 401.9L245.8 403M258.9 393.2L256.2 396.7L257.2 400.5L257.9 403.4L263 404.9L267.1 404.9L266.5 409.1L268.2 414.4L262.4 413.5L262.1 417.1L263.3 419L262.3 424.7M280.8 400.7L279.8 405.3L281 406.8L274.3 409.1L273.3 412L275.5 412.5L269.6 415.2L268.2 414.4M281 406.8L282.9 408.2L282.5 412L285.6 414.2L289.7 413.1L293.8 412.3L297.9 412L299.7 408.7M288.2 405.7L286.6 409.1L288.7 412.9M294.7 405.9L293.8 412.3M244 413.9L246.7 415.4L251.2 416.9L250.9 419.5L245.8 422.8L243.9 426.2L241.1 423.2M251.2 416.9L255 421.1L262.3 424.7L256.2 427.1L254.7 430.6L257 434.8L261.5 434.8L261.7 437.7L264 437.7L265.9 440.5L265.8 446.4L264.9 450.3L263.9 451.8M264 437.7L272.2 435.2L273.4 439.6L282.9 442.9L284.4 447.7L287.9 447.9L289.8 451.6L289 454.8L281.6 454.4L280.7 459.5L277.4 460.7L273.2 458.7L271.5 460.7L269 457.7L267.3 454.2L264.9 450.3M289 454.8L290.5 459.3L295.1 460.1L298.2 463.1L298 466.4L291.9 469.8L290.3 469.6L291.8 466L286.6 463.1L280.7 459.5M271.5 460.7L269.3 464.1L269.9 469.2L267.5 475.4L267.9 482.1L266.9 488.1L265.2 494.7L263.4 501.4L263.3 508.4L260.4 515.5L258.4 520.4L260.3 525.4L267.6 526.2M298 466.4L300.1 469.4L296.2 471.9L292.9 475.8L292 480.6L291.7 483.8M292.9 475.8L297.3 477.3L301.9 483.2M267.1 527.2L266.6 532.9M343.2 361.5L352 361.5L352 359.6L362.6 354.5L367.3 353.5L366.3 350.6L365.3 346.9M335 372.3L343.2 372.5L343.2 369.5L345.2 368.6L345.2 364.4L352 364.4L352 362.2L360 366L372.3 374L376.6 378.4L378.4 378L378.4 382.9L377 386L371.8 386.9L370.2 387.1M352 362.2L357.5 366L356.5 366.9L358.5 383.7L358.9 385.8L350.3 385.2L346.2 383.5L344.8 385.1L340.1 379.7L336 379.8M344.8 385.1L346.5 391.1L341.7 389.8L335.6 389.5M346.5 391.1L352.8 395.1L353.4 396.8L352.4 402.2L354.4 408.8M342.6 398.7L347.9 398L348.7 400.3L346.2 403.7M358.5 396.4L358.5 395.2L361.6 391.5L364.1 389L368.8 386.9L370.2 387.1L372.5 390.6L374.7 393.1L377.2 393.7M353.4 396.8L358.5 396.4L364.1 398.1L364.1 407.6M364.1 398.1L364.1 395.2L369.8 395L371.6 395.2L370.2 399.3L372.3 405.3M371.6 395.2L377.2 393.7L375.3 399.3L375.3 404.7M377.2 393.7L378.4 390L384.1 391L389.3 391.5L394.4 390.6L397.4 389.6L398.9 392.1L399.7 394.2L398.1 395.2L394.8 400.4L394 403.4L391.3 403.7L388.2 407.1L387.4 408M378.4 382.9L378.4 378L382.1 376.7L385.2 374.6L394.4 368.8L398.9 370.7L400.5 369.9L402.4 375.7L401.5 382.9L397.4 387.9L397.4 389.6M394.4 368.8L389.3 363.9L389.9 357L388.2 353.8L385.4 351.3L386.8 347.8L387.4 342.7M389.9 357L390.9 354.5L393.4 352.9L393.4 351.3M400.5 369.9L419 377.4L419 376.3L421 376.3L421 372L421 354.7M421 372L434.1 372L445.4 372M419 377.4L419 385.4L415.9 388.7L415.3 391.7L416.7 395.4L411.6 399.1L408.5 399.7L403.6 401.8L401.5 402.4L400.5 397.5L399.7 394.2M416.7 395.4L418.3 399.7L421.6 402.8L425.9 407.4L422 406.9L415.7 409.4L409.7 407.4L407.9 410.6L403.8 410.6L403 413.3L399.5 413.3L396.8 413.3L392.9 413.3L389.9 413.1M401.5 402.4L399.5 405.7L399.7 408L402.8 411.9L403 413.3M392.9 413.3L392.9 415.8L389.5 415.8M396.8 413.3L399.3 414.9L399.5 419L398.3 422.7L393.6 422.5L392.5 425.8M407.9 410.6L406.3 416L403 422.1L402.4 426L399.3 427.8L397.2 427.6L394.8 429.7M425.9 407.4L430.2 408.4L433.1 410.6L433.9 413.3L431 416.2L430.4 420.7L429.2 423.3L430 426.8L430.2 430.7L432.9 434.6L429 435.2L428 436.7L428.6 439.6L428 442.1L430.8 442.9L430.8 445.4L428 443.5L425.5 441.7L421.8 440.8L419.6 441.2L419 440.2L415.5 440.8L414.4 434L411.8 432.2L408.7 434.2L405.8 434.4L403.8 429.9L396.4 429.9M418.3 399.7L420 399.5L425.1 398.1L427.1 398.7L430.2 397.3L433.3 397.7L436.2 393.7L437.8 392.7L437.4 395.8L439.4 398.3L437.4 401.8L442.1 406.7L439.4 409.2L433.3 410.4M445.4 372L444.3 388.3L443.7 391.7L441.5 393.5L440 396L439.4 398.3M444.3 388.3L446.8 388.5L449.7 387.7L453.4 388.5L456.6 392.1L458.1 391.7M456.6 392.1L455.4 395.2L457.9 394.2M455.4 395.2L457.5 395.4L458.9 398.5L466.1 401.4L468.1 401.4L462 407.6L455.8 409.4L453.8 409.8L453.8 421.3M442.1 406.7L445.4 408.8L450.7 410.8L453.8 409.8M439.4 409.2L441.5 414.3L439.4 419.8L446.8 423.9L450.1 427.4M439.4 419.8L432.3 419.8L430.4 420.7M432.3 419.8L432.9 422.7L432.1 426.8L430 426.8M432.9 434.6L437.2 437.1L439.4 437.3L440.7 441.7L447.6 441L452.5 439.4M437.2 437.1L438 443.5L436.8 445.8L437.8 446.6L431.6 448.7L432.1 450L429 450.8L425.1 454.8L421.6 454.6L417.7 454.2L414.9 451.3L414.9 444.6L419 444.6L419 440.2M440.7 441.7L440.3 447.5L443.3 450.8L441.7 453.1L440 448.7L437.8 446.6M432.1 450L437.2 452.3L437 458.2L436.2 462.1L433.9 464.4L430 464L426.1 460.4L421.6 454.6M433.9 464.4L435.3 469L435.1 471.8L435.5 474L437.2 474.2M430 464L425.1 467L422.6 471.6L416.9 470.7L412.2 474L410.8 469.6L410.8 463.6L412.8 463.6L412.8 455.7L417.7 454.2M394 453.6L398.5 453.8L407.7 453.8L412.8 455L417.7 454.2M410.8 469.6L410.8 477.5L405.4 478.2L403.6 478M425.1 480.2L428.4 478L430 480.2L427.6 482.4L425.1 480.2M351.8 330.4L356.5 330.4L355.5 334.6L354.4 342.1M366.1 326L371.2 328.3L376.4 329.1M374.9 304.2L378.4 307.4L381.7 309.1L386.6 310.4L385.4 314.1L382.1 318.3L384.1 318.9L384.1 324L385.2 325.2M385.4 314.1L389.5 314.2L391.3 315.8L391.1 316.8L388.2 318.7L384.1 318.9M376.7 303.6L380 303.6L382.1 302.9L384.5 298.8M381.7 309.1L382.3 307.5L382.1 305.6L382.1 302.9M387.4 294.2L390 294.4M399 296.4L399.9 304.2L394.6 306.8L398 310.7L396.4 314.3L389.5 314.2M391.3 315.8L394.8 315.6L397.8 317.1L397.8 319.6M397.8 317.1L402.7 315.5L404.8 311.7L404.4 309.7L400.5 309.7L398 310.7M399.9 304.2L404.4 304.9L408.3 307L415.9 308.3L415.3 310.3L408.3 311.9L404.8 311.7M408.3 307L415.9 308.3L418.9 304.4L418.1 300.8L418.7 295.1L416.4 294.4L410.3 294M418.7 295.1L422.5 293.4L424.1 291.1L427.4 289.6M412.7 289.7L420.7 289L424.1 291.1M419.4 284.5L425.8 285.6M418.1 300.8L420.9 301.5L432.3 304L433.9 301.4M415.3 310.3L420.8 313.5L424.3 312.1L427.6 319.4L430.6 320M424.3 312.1L429.6 313L431.4 317.2M402.7 315.5L403.8 316.6L408.3 318.1L411.3 317L416.7 311.8L415.3 310.3M411.3 317L413.6 321.2L416.2 322.4L415.6 327.4L416.7 331.5L423.8 330.3L427.1 329.7M416.2 322.4L416.2 324.5L425.1 323.2L428.3 324.4M397.8 319.6L401.1 319.9L403.8 316.6M408.3 318.1L409.5 321.3L408.7 325.6L409.5 330.1M402.1 320.7L409.5 321.3M402.1 320.7L402.7 323.6L405.8 327L407.7 328.7M411.2 335.9L412.8 332.7L416.7 331.5M409.5 330.1L411.8 329.2L415.6 328.8M423.8 330.3L423 332.9M393.9 282.3L394.9 275.7L394.4 267.7L398.7 261.5L403 253.7L406.7 250L411.8 247.6M411.8 247.6L418.3 251.5L419.1 258.7M411.8 247.6L422.6 247.9L428.9 247.4M443.5 344.4L448 341.4L455.1 339.7L459.8 340.1L458 334.2L457.2 332.1L457 329.9L453.2 328.4M458 334.2L462.4 335.9L464.7 334.1L466.9 337.1M457 329.9L459.5 329.8L461.7 328.6M459.5 329.8L462.4 335.9M455.1 339.7L453 347.4L449 349.7L449.7 352.5M443.3 350L449 349.7M442.7 351.1L442.5 353.9L441.3 358.6M441.7 350.2L443.3 350L444.7 347.6L443.5 347M459.8 340.1L462.3 344.2L461.1 349.2L462.3 352.1L465.5 357L467.1 359.4M477.9 340.1L482.5 337.8L488.2 339L494.1 341.4L493.5 346.8L492.3 351L495.1 355.8L493.1 359L497.2 364.4L498.2 365.4L494.4 370.1M493.1 359L499.7 359L504.6 357.4L505.6 354.2L511.3 351.7L512.8 347.7L515.4 346L516.4 340.2L523.2 337.7M494.1 341.4L496.8 344.7L501.2 341.8L505.5 338.6L508.7 339.3L512 337.4L516.2 336.2L516.4 338.9L522.4 337.9M474.7 328.1L479.2 327.8L482.7 329.2L485.3 328.9L489.6 324.6L492.5 325.9L496.2 328.9L501.3 335L505.5 338.6M482.7 329.2L483.9 319.1L489.8 317.1L494.7 320.2L502.5 322.3L504.9 324.3L504.6 326.9L508.8 329.4L515 326L513.4 328.7L516.3 328.3M508.8 329.4L507.5 333L509.6 336.2L508.7 339.3M515 326L520.2 325.6L522.7 323.7L533.4 325.8M514.1 332.4L520.9 332M514.1 332.4L514.7 329.5L516.3 328.3L519.5 329.3M508.4 371.2L513.5 370.2L512.3 361.7L519.3 355.3L522.4 353L521.3 348.5L524.2 350.1L529.1 342.1M533.7 358L535.6 354.9M533.7 358L540.7 360.3L550.3 361.3L550 358.8M550.3 361.3L550.2 363.4L552.1 366.8L552.1 367.2M551.7 361.4L553.8 361.7L558.7 363.2L556.6 364L558.8 365L559.5 369.5M552.1 360L553.8 360.9L558.3 361.1L558.3 359.3M548.6 308.1L554.2 306L559.4 304.1L569.9 307.4L571.9 301.5L579.9 304L580.1 306.3L590.3 308.8L599.1 310.7L605.4 308.3L611.4 309.7L613.8 310.7L618 309.6L619.1 302.2L616.9 298.4L624.3 298.1L630.2 301.8L634.5 309.9L641.8 313.2L642.7 316.6L649.1 312.8L648.3 322.6L643.7 326.7L643.5 332.6L642.3 334.1M548.6 308.1L550.1 309.8L555.2 312.3L556.2 318.1L565.6 321.4L567.6 325.8L577 327.1L583.9 328.7L596.7 327.6L601.8 325.5L601.7 322.5L610.5 321.8L611.8 319.2L619 319L614.4 316L609.2 314.3L611.4 309.7M642.3 334.1L636.9 334.2L634.6 334L629.4 336M571.2 393.6L572.2 388.1L569.8 385.1L570.5 381.5L575.7 382.3L578.1 381.2M571.2 393.6L572.8 401.6L574 405.9L572.5 409.4M575.7 382.3L576.6 385.2L578.3 386L578.3 390.6L580.2 390.2L582.9 390.5L586.1 393.4L586.1 396.1L587.7 398.1L586.6 401.4L591.4 402.1M586.6 401.4L580.4 399.8L579.7 401.5L581.7 406.6M591.4 402.1L591.6 404.3L588.8 408.5L587 412.4M591.4 402.1L591.2 398.1L587.4 391.6L584.8 388.2L586.3 386.7L580 378.4M575.3 418.7L577.9 421L580.8 420.4M597.1 435.8L599.1 438.4L602.8 437.2L606.6 437.2L608.6 435.3L610.8 430.3L614.5 430.5M629 462.9L631.2 462.4L631 464.1M673.8 447.2L673.8 462.7"/>
</g>
<path fill="#0e2243" d="M220.4 321L224.2 318.9L228 316.7L231.8 316.2L234.2 318.1L234.6 321.5L231.8 321.3L228.9 321.5L226.1 320.5L223.2 321.3ZM228.4 332L229.9 332.7L231.2 330.8L231 327.4L232.7 325L233.7 323.2L231.2 322.9L228.9 324.6L228.2 328.5ZM234.2 322.9L236.5 322.4L240.3 322.9L243.2 325L243.2 326L240.7 325.7L239.9 329L238.6 329.7L237.8 327.4L235.9 328.1L236.9 325ZM236.7 332.4L238.4 333.3L242.2 332L245.2 330.1L242.2 330.6L238.4 331.5ZM243.5 329L247 329L250.2 328.5L250.2 327.1L247 327.6L244.5 328.1ZM434.7 418.8L436.4 417.2L439.4 417.4L439.8 419.8L438.4 422.9L435.3 422.9L434.7 420.9ZM464.2 319.4L467.5 316.7L472 315.2L476.5 315.4L475.8 319.5L471.7 319.7L470.7 321.8L469.1 322.4L471.4 325.1L474.1 326.1L473.5 329.3L476 331L474.5 333L477.1 334.8L477.9 340.1L473.9 341.6L470.1 339.9L467.5 339.6L466.9 337.1L467.2 334.8L467.3 332.3L468.9 332L467.2 330.6L465.2 328.1L463.4 325.7L463.6 323.2L462.4 321.9ZM489.6 318.7L491.6 314.8L494.7 314.3L495.7 317.4L493.7 320.4L490.6 321.7L489.2 320.4ZM583.1 303.3L585.8 303.2L590 300.7L593.5 297.4L595.3 293.1L595.6 291.2L594.1 290.9L592.3 294.6L588.9 298.5L585.8 301.4L583 302.5ZM520.1 318.2L523.2 315.2L527.4 315.5L531.5 315.2L531.5 316.2L527.4 316.2L523.3 317.5L521.2 319.4ZM525.8 325.6L529.9 324.8L529.5 326.1L526.4 326.3Z"/>
<defs><linearGradient id="fd" x1="0" y1="0" x2="0" y2="1"><stop offset="0" stop-color="#0e2243" stop-opacity="0"/><stop offset="1" stop-color="#0e2243" stop-opacity=".6"/></linearGradient></defs><rect x="225" y="488" width="130" height="56" fill="url(#fd)" clip-path="url(#land)"/>
</svg>

<svg width="0" height="0" style="position:absolute"><defs><radialGradient id="pg" gradientUnits="userSpaceOnUse" cx="18" cy="24" r="14"><stop offset="0" stop-color="#0b2a55" stop-opacity=".22"/><stop offset="1" stop-color="#0b2a55" stop-opacity="0"/></radialGradient></defs></svg>
<div class="psh" style="left:180.8px;top:318.5px;width:82.2px"></div>
<div class="psh" style="left:355.0px;top:299.2px;width:72.8px"></div>
<div class="psh" style="left:516.8px;top:353.2px;width:78.5px"></div>
<div class="psh" style="left:245.2px;top:453.2px;width:91.1px"></div>
<div class="psh" style="left:380.0px;top:435.7px;width:113.2px"></div>
<div class="pill" style="left:168.8px;top:277.2px;width:88.20px;height:43.80px"><span style="letter-spacing:0.42px;top:-1.05px;left:-0.6px">North<br>America</span></div>
<svg class="pin" style="left:212.75px;top:230.2px" viewBox="0 0 36 43"><path d="M17.35 41.55L5.67 30.06A17.55 17.55 0 1 1 30.33 30.06L18.65 41.55Q18 42.25 17.35 41.55Z" fill="#2b71ba"/><path d="M17.35 41.55L5.67 30.06A17.55 17.55 0 1 1 30.33 30.06L18.65 41.55Q18 42.25 17.35 41.55Z" fill="url(#pg)"/><circle cx="17.65" cy="17.2" r="8.7" fill="#fff"/></svg>
<div class="pill" style="left:343.0px;top:259.0px;width:78.75px;height:42.75px"><span style="letter-spacing:-0.08px;top:0.95px;left:0.1px">Europe</span></div>
<svg class="pin" style="left:382.45px;top:211.7px" viewBox="0 0 36 43"><path d="M17.35 41.55L5.67 30.06A17.55 17.55 0 1 1 30.33 30.06L18.65 41.55Q18 42.25 17.35 41.55Z" fill="#2b71ba"/><path d="M17.35 41.55L5.67 30.06A17.55 17.55 0 1 1 30.33 30.06L18.65 41.55Q18 42.25 17.35 41.55Z" fill="url(#pg)"/><circle cx="17.65" cy="17.2" r="8.7" fill="#fff"/></svg>
<div class="pill" style="left:504.75px;top:314.2px;width:84.45px;height:41.55px"><span style="letter-spacing:0.5px;top:-1.05px;left:-0.45px">Asia<br>Pacific</span></div>
<svg class="pin" style="left:546.7px;top:265.7px" viewBox="0 0 36 43"><path d="M17.35 41.55L5.67 30.06A17.55 17.55 0 1 1 30.33 30.06L18.65 41.55Q18 42.25 17.35 41.55Z" fill="#2b71ba"/><path d="M17.35 41.55L5.67 30.06A17.55 17.55 0 1 1 30.33 30.06L18.65 41.55Q18 42.25 17.35 41.55Z" fill="url(#pg)"/><circle cx="17.65" cy="17.2" r="8.7" fill="#fff"/></svg>
<div class="pill" style="left:233.25px;top:412.25px;width:97.05px;height:43.50px"><span style="letter-spacing:0.42px;top:-1.05px;left:-0.6px">Latin<br>America</span></div>
<svg class="pin" style="left:281.6px;top:364.65px" viewBox="0 0 36 43"><path d="M17.35 41.55L5.67 30.06A17.55 17.55 0 1 1 30.33 30.06L18.65 41.55Q18 42.25 17.35 41.55Z" fill="#2b71ba"/><path d="M17.35 41.55L5.67 30.06A17.55 17.55 0 1 1 30.33 30.06L18.65 41.55Q18 42.25 17.35 41.55Z" fill="url(#pg)"/><circle cx="17.65" cy="17.2" r="8.7" fill="#fff"/></svg>
<div class="pill" style="left:368.0px;top:395.2px;width:119.20px;height:43.00px"><span style="letter-spacing:0.32px;top:-1.05px;left:-0.5px">Middle East<br>&amp; Africa</span></div>
<svg class="pin" style="left:427.6px;top:347.75px" viewBox="0 0 36 43"><path d="M17.35 41.55L5.67 30.06A17.55 17.55 0 1 1 30.33 30.06L18.65 41.55Q18 42.25 17.35 41.55Z" fill="#2b71ba"/><path d="M17.35 41.55L5.67 30.06A17.55 17.55 0 1 1 30.33 30.06L18.65 41.55Q18 42.25 17.35 41.55Z" fill="url(#pg)"/><circle cx="17.65" cy="17.2" r="8.7" fill="#fff"/></svg>

<div id="ring"></div>
<svg id="pie" viewBox="821 89 368 368">
<defs>
<radialGradient id="sh" gradientUnits="userSpaceOnUse" cx="1005.6" cy="273.8" r="183">
<stop offset="0.862" stop-color="#101828" stop-opacity=".19"/>
<stop offset="0.889" stop-color="#101828" stop-opacity=".105"/>
<stop offset="0.929" stop-color="#101828" stop-opacity=".05"/>
<stop offset="0.968" stop-color="#101828" stop-opacity=".018"/>
<stop offset="0.995" stop-color="#101828" stop-opacity="0"/>
</radialGradient>
</defs>
<circle cx="1005.6" cy="273.8" r="183" fill="url(#sh)"/>
<path d="M1005.6 273.6L1005.60 115.10A158.5 158.5 0 0 1 1142.03 354.28Z" fill="#002b5e" stroke="#002b5e" stroke-width=".4"/>
<path d="M1005.6 273.6L1142.03 354.28A158.5 158.5 0 0 1 924.51 409.79Z" fill="#15416c" stroke="#15416c" stroke-width=".4"/>
<path d="M1005.6 273.6L924.51 409.79A158.5 158.5 0 0 1 850.88 239.21Z" fill="#003e7e" stroke="#003e7e" stroke-width=".4"/>
<path d="M1005.6 273.6L850.88 239.21A158.5 158.5 0 0 1 941.92 128.46Z" fill="#1f5f9f" stroke="#1f5f9f" stroke-width=".4"/>
<path d="M1005.6 273.6L941.92 128.46A158.5 158.5 0 0 1 1005.60 115.10Z" fill="#4a8eee" stroke="#4a8eee" stroke-width=".4"/>
<path d="M1006.6 274.20000000000005L1141.60 354.03" stroke="#9fc0e8" stroke-opacity=".38" stroke-width=".6" stroke-dasharray="1.2 .9" fill="none"/>
</svg>
<div id="pct">33.5%</div>

<div class="lg" style="top:475.7px"><i style="background:#062b5e"></i><span>North America</span></div>
<div class="lg" style="top:502.6px"><i style="background:#1a426f"></i><span>Asia Pacific</span></div>
<div class="lg" style="top:529.6px"><i style="background:#0a4080"></i><span>Europe</span></div>
<div class="lg" style="top:556.5px"><i style="background:#2261a3"></i><span>Latin America</span></div>
<div class="lg" style="top:583.5px"><i style="background:#4a8ef0"></i><span>Middle East &amp; Africa</span></div>

<div id="footer">
<div class="ft b" style="left:70.2px;letter-spacing:.3px">Web:</div>
<div class="ft" style="left:123.2px;letter-spacing:.36px">www.researchnester.com</div>
<div class="sep" style="left:354.9px"></div>
<div class="ft b" style="left:363px;letter-spacing:.55px">Mob:</div>
<div class="ft" style="left:416px;letter-spacing:-.27px">+1 646 586 9123</div>
<div class="sep" style="left:566.6px"></div>
<div class="ft" style="left:574.6px;letter-spacing:.27px">info@researchnester.com</div>
<svg id="logo" viewBox="990 665 240 50" fill="none" stroke-width="5.8">
<path d="M1032 691V683.7A5.2 5.2 0 0 0 1026.8 678.5H1008.2A5.2 5.2 0 0 0 1003 683.7V698.4A5.2 5.2 0 0 0 1008.2 703.6H1017.5" stroke="#9e9e9e"/>
<path d="M1020.4 695V698.4A5.2 5.2 0 0 0 1025.6 703.6H1029" stroke="#fff" stroke-width="10"/>
<path d="M1020.4 691.2V698.4A5.2 5.2 0 0 0 1025.6 703.6H1045.5A5.2 5.2 0 0 0 1050.7 698.4V683.7A5.2 5.2 0 0 0 1045.5 678.5H1035" stroke="#15365b"/>
<path d="M1024 678.5H1026.8A5.2 5.2 0 0 1 1032 683.7V687" stroke="#fff" stroke-width="10"/>
<path d="M1024 678.5H1026.8A5.2 5.2 0 0 1 1032 683.7V687" stroke="#9e9e9e"/>
<path d="M1032 686V691" stroke="#9e9e9e"/>
</svg>
<div class="lt" id="lr" style="left:1060.7px;top:10.9px;font-size:25px;line-height:26px;color:#9c9c9c;-webkit-text-stroke:.6px #9c9c9c;transform:scaleX(.78)">Research</div>
<div class="lt" id="ln" style="left:1154.7px;top:10.9px;font-size:25px;line-height:26px;color:#15365b;-webkit-text-stroke:.5px #15365b;transform:scaleX(.78)">Nester</div>
<div class="lt" id="lc" style="left:1061.5px;top:37.7px;font-size:8.4px;line-height:10px;color:#1b3a63;-webkit-text-stroke:.25px #1b3a63;letter-spacing:1.84px">Connect. Lead. Accomplish</div>
</div>
</div>
</body>
</html>
